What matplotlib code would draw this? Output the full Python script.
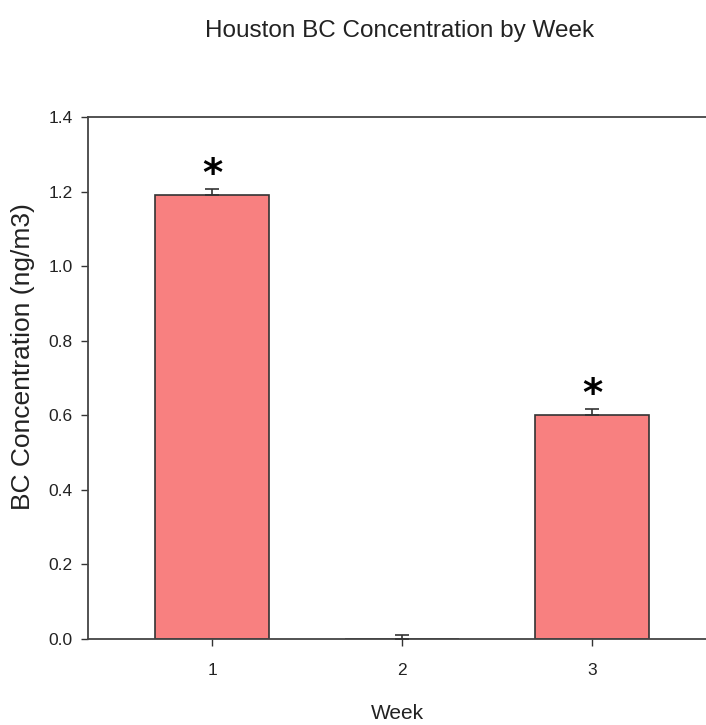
import matplotlib
matplotlib.use("Agg")
import matplotlib.pyplot as plt

weeks = [1, 2, 3]
week_labels = ["1", "2", "3"]
bc_values = [1.19, 0.0, 0.60]
bc_errors = [0.018, 0.010, 0.018]
significant = [True, False, True]
y_ticks = [0.0, 0.2, 0.4, 0.6, 0.8, 1.0, 1.2, 1.4]

plt.rcParams['font.family'] = ['Liberation Sans', 'DejaVu Sans']

fig = plt.figure(figsize=(7.06, 7.25), dpi=100)
ax = fig.add_axes([88/706, 86/725, 618/706, 522/725])

ax.bar(weeks, bc_values, width=0.6, color='#F88080', edgecolor='#333333', linewidth=1.2, zorder=2)
ax.errorbar(weeks, bc_values, yerr=[[0]*len(bc_errors), bc_errors], fmt='none',
            ecolor='#333333', elinewidth=1.2, capsize=5, capthick=1.2, zorder=3)
for w, v, e, s in zip(weeks, bc_values, bc_errors, significant):
    if s:
        ax.text(w, v + e + 0.037, "*", ha='center', va='center', fontsize=28,
                fontweight='bold', color='black', family='DejaVu Sans')

ax.set_xlim(0.347, 3.6)
ax.set_ylim(0, 1.4)
ax.set_xticks(weeks)
ax.set_xticklabels(week_labels)
ax.set_yticks(y_ticks)
ax.set_yticklabels([f"{t:.1f}" for t in y_ticks])
ax.tick_params(axis='both', direction='out', length=5, width=1, colors='#333333', labelsize=12.5,
               labelcolor='#222222')
ax.tick_params(axis='x', pad=12)
ax.tick_params(axis='y', pad=6)
for side in ['left', 'bottom', 'top']:
    ax.spines[side].set_color('#444444')
    ax.spines[side].set_linewidth(1.3)
ax.spines['right'].set_visible(False)

ax.set_xlabel("Week", fontsize=15, labelpad=19, color='#222222')
ax.set_ylabel("BC Concentration (ng/m3)", fontsize=19, color='#222222')
ax.yaxis.set_label_coords(-0.085, 0.542)
fig.text(400/706, 1 - 31/725, "Houston BC Concentration by Week", ha='center', va='center',
         fontsize=17.5, color='#222222')

fig.savefig("out.png", dpi=100)
